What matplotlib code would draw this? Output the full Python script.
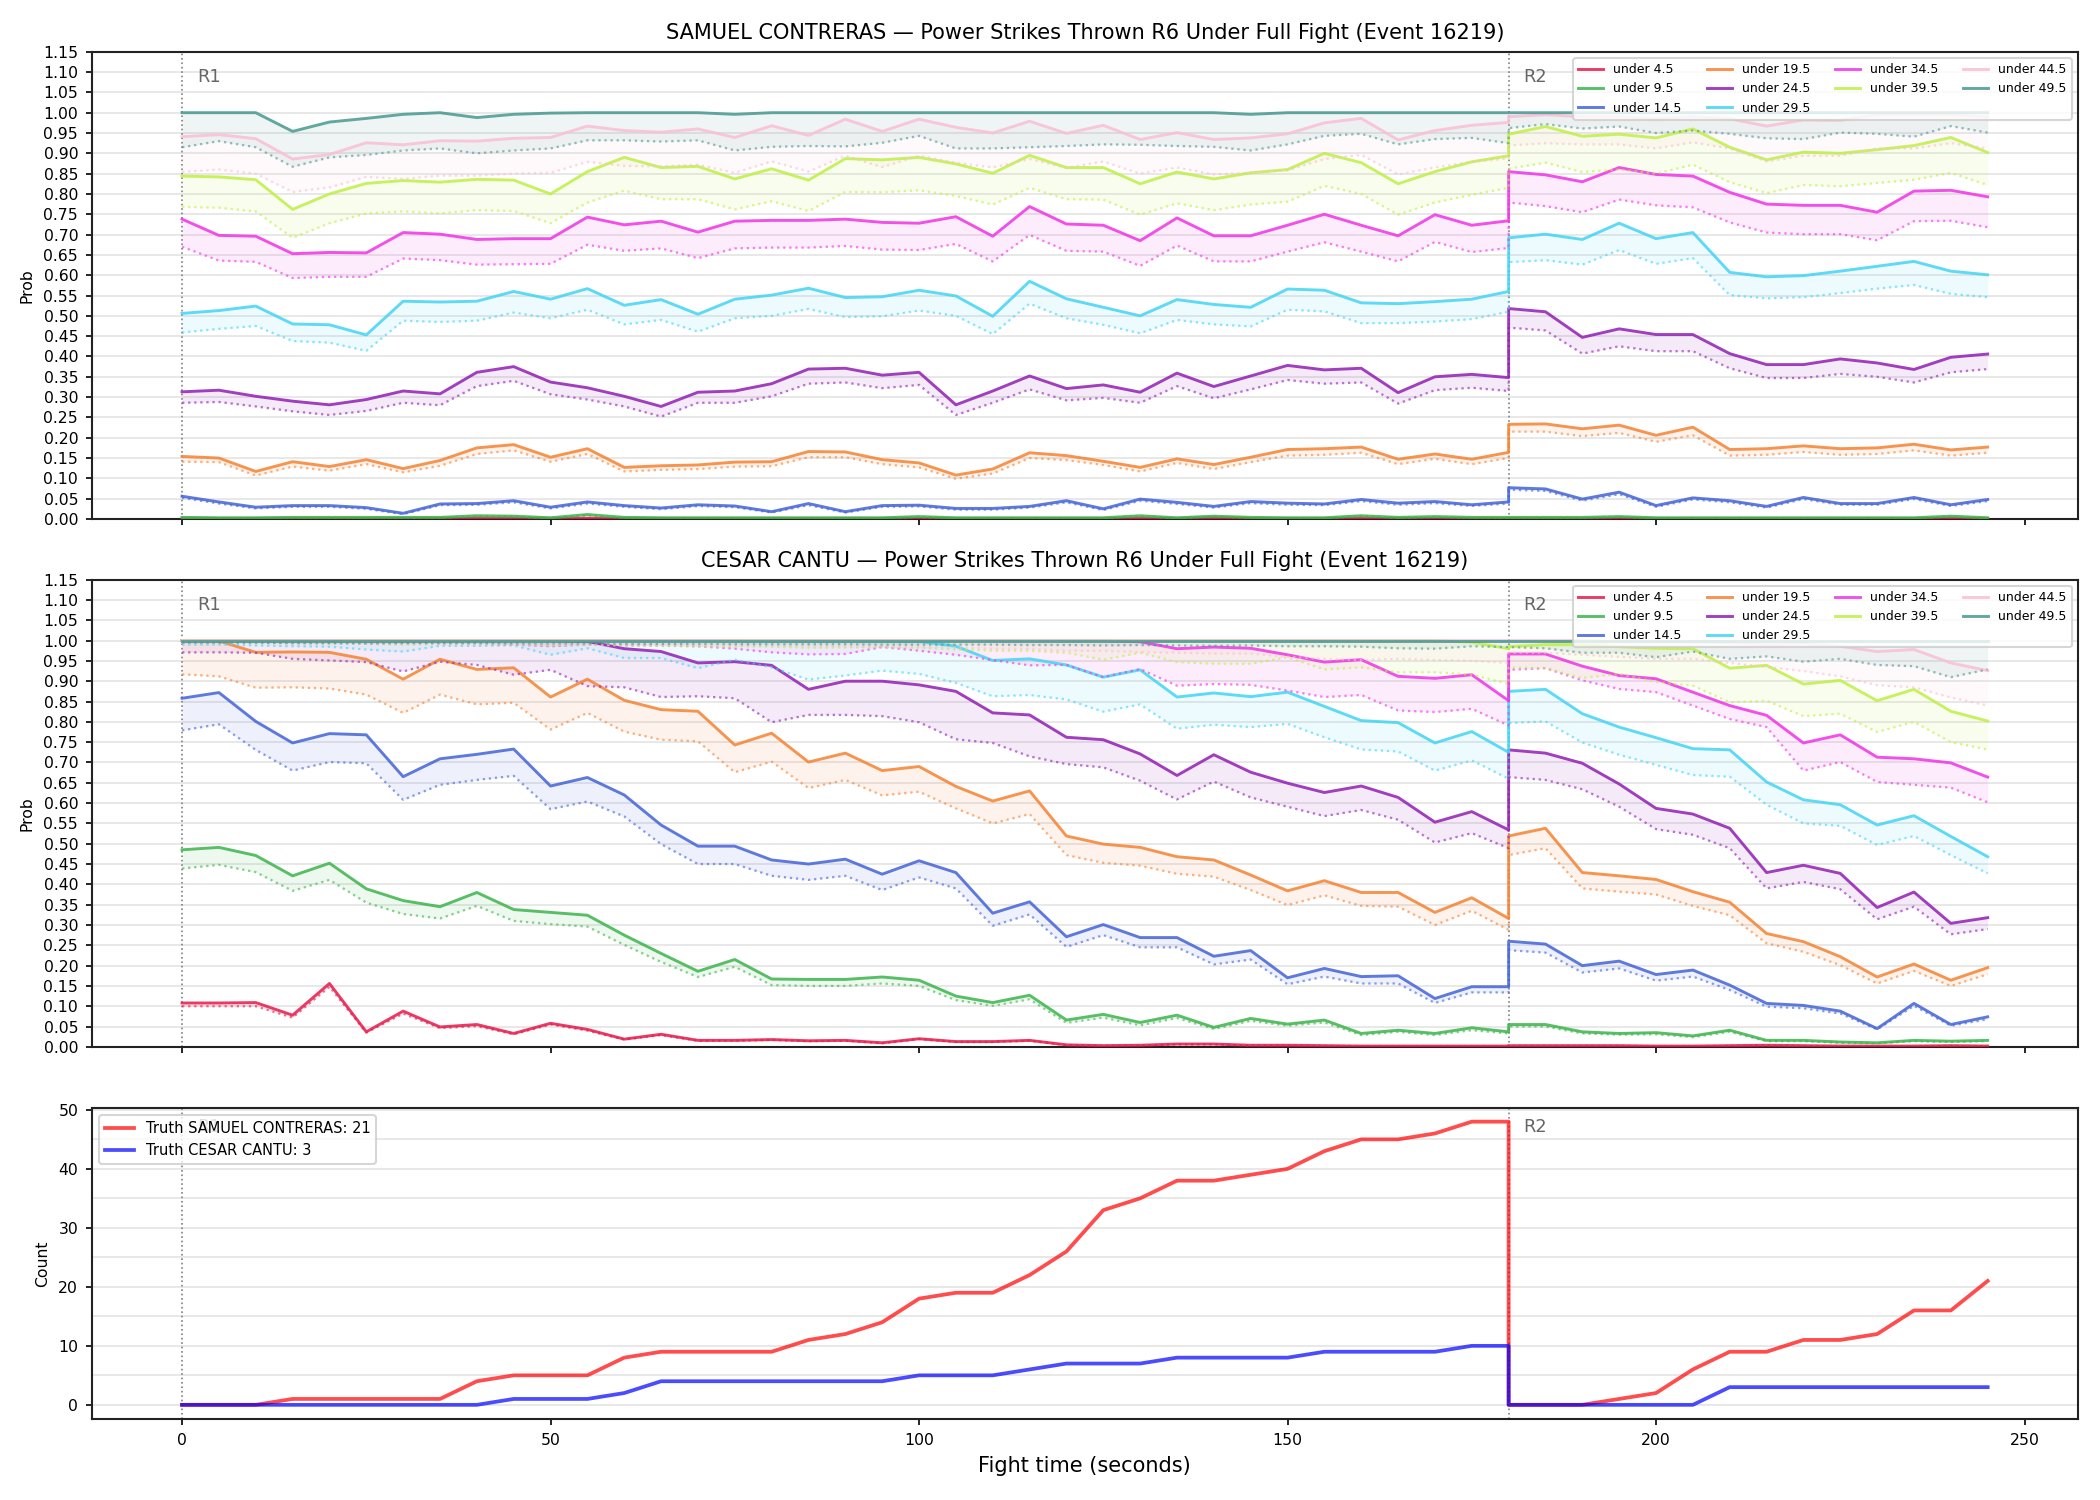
import numpy as np
import matplotlib
matplotlib.use("Agg")
import matplotlib.pyplot as plt
from matplotlib.ticker import MultipleLocator
from matplotlib.transforms import blended_transform_factory

plt.rcParams["font.family"] = ["DejaVu Sans"]
plt.rcParams["axes.edgecolor"] = "#222222"
plt.rcParams["axes.linewidth"] = 1.0

# ---------------- data ----------------
t_r1 = list(range(0, 181, 5))      # round 1 sample times
t_r2 = list(range(180, 246, 5))    # round 2 sample times
times = t_r1 + t_r2
round_starts = [0, 180]
round_names = ["R1", "R2"]

lines = ["under 4.5", "under 9.5", "under 14.5", "under 19.5", "under 24.5",
         "under 29.5", "under 34.5", "under 39.5", "under 44.5", "under 49.5"]
colors = ["#e6194B", "#3cb44b", "#4363d8", "#f58231", "#911eb4",
          "#42d4f4", "#f032e6", "#bfef45", "#fabed4", "#469990"]

# ---- SAMUEL CONTRERAS: solid (model) and dotted (reference) probabilities ----
sc_u4_5 = [0.001, 0.001, 0.001, 0.001, 0.001, 0.001, 0.001, 0.001, 0.002, 0.002, 0.001, 0.002, 0.001, 0.001, 0.001, 0.001, 0.001, 0.001, 0.001, 0.001, 0.001, 0.001, 0.001, 0.001, 0.001, 0.001, 0.002, 0.001, 0.003, 0.001, 0.001, 0.001, 0.002, 0.001, 0.001, 0.001, 0.001,
           0.001, 0.001, 0.001, 0.002, 0.001, 0.001, 0.001, 0.001, 0.001, 0.001, 0.001, 0.001, 0.002, 0.001]
sc_u4_5_ref = [0.000, 0.000, 0.000, 0.000, 0.000, 0.000, 0.000, 0.000, 0.001, 0.001, 0.000, 0.001, 0.000, 0.000, 0.000, 0.000, 0.000, 0.000, 0.000, 0.000, 0.000, 0.000, 0.000, 0.000, 0.000, 0.000, 0.001, 0.000, 0.002, 0.000, 0.000, 0.000, 0.001, 0.000, 0.000, 0.000, 0.000,
               0.000, 0.000, 0.000, 0.001, 0.000, 0.000, 0.000, 0.000, 0.000, 0.000, 0.000, 0.000, 0.001, 0.000]
sc_u9_5 = [0.004, 0.003, 0.003, 0.004, 0.004, 0.004, 0.004, 0.004, 0.008, 0.007, 0.003, 0.011, 0.004, 0.003, 0.003, 0.003, 0.003, 0.003, 0.003, 0.003, 0.006, 0.003, 0.003, 0.003, 0.003, 0.003, 0.008, 0.003, 0.007, 0.004, 0.003, 0.003, 0.008, 0.004, 0.006, 0.004, 0.004,
           0.004, 0.004, 0.004, 0.006, 0.003, 0.003, 0.003, 0.003, 0.003, 0.003, 0.003, 0.003, 0.007, 0.003]
sc_u9_5_ref = [0.003, 0.002, 0.002, 0.003, 0.003, 0.003, 0.003, 0.003, 0.007, 0.006, 0.002, 0.009, 0.003, 0.002, 0.002, 0.002, 0.002, 0.002, 0.002, 0.002, 0.005, 0.002, 0.002, 0.002, 0.002, 0.002, 0.007, 0.002, 0.006, 0.003, 0.002, 0.002, 0.007, 0.003, 0.005, 0.003, 0.003,
               0.003, 0.003, 0.003, 0.005, 0.002, 0.002, 0.002, 0.002, 0.002, 0.002, 0.002, 0.002, 0.006, 0.002]
sc_u14_5 = [0.056, 0.042, 0.029, 0.033, 0.033, 0.028, 0.014, 0.037, 0.038, 0.045, 0.029, 0.042, 0.033, 0.027, 0.035, 0.032, 0.018, 0.038, 0.018, 0.033, 0.034, 0.026, 0.026, 0.031, 0.045, 0.025, 0.049, 0.041, 0.031, 0.043, 0.039, 0.037, 0.048, 0.039, 0.043, 0.035, 0.042,
            0.077, 0.074, 0.049, 0.066, 0.033, 0.052, 0.045, 0.031, 0.053, 0.038, 0.038, 0.053, 0.035, 0.048]
sc_u14_5_ref = [0.052, 0.038, 0.026, 0.030, 0.030, 0.025, 0.012, 0.034, 0.035, 0.041, 0.026, 0.038, 0.030, 0.024, 0.032, 0.029, 0.016, 0.034, 0.016, 0.030, 0.031, 0.023, 0.023, 0.028, 0.041, 0.022, 0.045, 0.037, 0.028, 0.039, 0.035, 0.034, 0.044, 0.035, 0.039, 0.032, 0.038,
                0.072, 0.069, 0.045, 0.061, 0.030, 0.048, 0.041, 0.028, 0.049, 0.035, 0.035, 0.049, 0.032, 0.044]
sc_u19_5 = [0.154, 0.150, 0.117, 0.141, 0.129, 0.146, 0.124, 0.144, 0.175, 0.183, 0.152, 0.173, 0.127, 0.131, 0.133, 0.140, 0.141, 0.166, 0.165, 0.146, 0.138, 0.108, 0.123, 0.163, 0.156, 0.142, 0.127, 0.148, 0.134, 0.152, 0.171, 0.173, 0.177, 0.147, 0.160, 0.147, 0.164,
            0.233, 0.234, 0.222, 0.231, 0.206, 0.226, 0.171, 0.173, 0.180, 0.173, 0.175, 0.184, 0.170, 0.177]
sc_u19_5_ref = [0.141, 0.140, 0.107, 0.129, 0.119, 0.135, 0.115, 0.131, 0.160, 0.169, 0.141, 0.160, 0.117, 0.121, 0.123, 0.129, 0.130, 0.152, 0.152, 0.135, 0.127, 0.099, 0.112, 0.150, 0.145, 0.133, 0.117, 0.138, 0.123, 0.140, 0.156, 0.158, 0.163, 0.135, 0.148, 0.135, 0.150,
                0.215, 0.215, 0.204, 0.212, 0.190, 0.206, 0.156, 0.158, 0.165, 0.158, 0.160, 0.169, 0.156, 0.163]
sc_u24_5 = [0.313, 0.317, 0.302, 0.290, 0.281, 0.294, 0.315, 0.308, 0.361, 0.375, 0.337, 0.323, 0.302, 0.277, 0.312, 0.315, 0.333, 0.369, 0.371, 0.354, 0.361, 0.281, 0.315, 0.352, 0.321, 0.330, 0.312, 0.359, 0.326, 0.352, 0.378, 0.367, 0.371, 0.311, 0.350, 0.356, 0.348,
            0.518, 0.510, 0.447, 0.468, 0.454, 0.454, 0.407, 0.380, 0.380, 0.394, 0.384, 0.368, 0.398, 0.406]
sc_u24_5_ref = [0.286, 0.288, 0.277, 0.265, 0.256, 0.266, 0.286, 0.280, 0.327, 0.340, 0.307, 0.294, 0.277, 0.252, 0.286, 0.286, 0.302, 0.333, 0.336, 0.322, 0.330, 0.256, 0.286, 0.319, 0.292, 0.298, 0.286, 0.327, 0.297, 0.319, 0.342, 0.333, 0.336, 0.284, 0.317, 0.323, 0.315,
                0.471, 0.464, 0.407, 0.425, 0.413, 0.413, 0.371, 0.347, 0.347, 0.357, 0.350, 0.336, 0.361, 0.369]
sc_u29_5 = [0.506, 0.513, 0.524, 0.480, 0.478, 0.453, 0.536, 0.534, 0.536, 0.560, 0.541, 0.567, 0.526, 0.540, 0.504, 0.541, 0.551, 0.568, 0.545, 0.547, 0.563, 0.549, 0.499, 0.585, 0.542, 0.521, 0.500, 0.540, 0.528, 0.521, 0.566, 0.563, 0.532, 0.530, 0.535, 0.541, 0.560,
            0.692, 0.701, 0.688, 0.728, 0.690, 0.705, 0.607, 0.596, 0.599, 0.610, 0.622, 0.634, 0.610, 0.601]
sc_u29_5_ref = [0.459, 0.468, 0.475, 0.438, 0.434, 0.414, 0.488, 0.485, 0.488, 0.508, 0.494, 0.515, 0.479, 0.490, 0.461, 0.494, 0.500, 0.517, 0.497, 0.499, 0.513, 0.500, 0.455, 0.530, 0.494, 0.478, 0.457, 0.490, 0.479, 0.474, 0.515, 0.511, 0.482, 0.482, 0.486, 0.492, 0.510,
                0.632, 0.637, 0.626, 0.662, 0.628, 0.642, 0.551, 0.543, 0.546, 0.556, 0.567, 0.576, 0.554, 0.546]
sc_u34_5 = [0.738, 0.698, 0.696, 0.653, 0.656, 0.655, 0.705, 0.701, 0.688, 0.690, 0.690, 0.743, 0.724, 0.733, 0.706, 0.733, 0.735, 0.735, 0.738, 0.730, 0.728, 0.744, 0.696, 0.769, 0.726, 0.723, 0.685, 0.741, 0.697, 0.697, 0.723, 0.750, 0.723, 0.697, 0.749, 0.723, 0.734,
            0.855, 0.847, 0.830, 0.865, 0.848, 0.844, 0.804, 0.775, 0.772, 0.772, 0.755, 0.807, 0.809, 0.793]
sc_u34_5_ref = [0.670, 0.636, 0.633, 0.593, 0.596, 0.596, 0.641, 0.637, 0.626, 0.627, 0.628, 0.675, 0.660, 0.666, 0.642, 0.666, 0.668, 0.668, 0.672, 0.663, 0.662, 0.677, 0.634, 0.699, 0.660, 0.658, 0.623, 0.673, 0.634, 0.634, 0.658, 0.681, 0.658, 0.634, 0.682, 0.657, 0.667,
                0.779, 0.770, 0.755, 0.786, 0.772, 0.767, 0.730, 0.705, 0.701, 0.701, 0.686, 0.733, 0.734, 0.718]
sc_u39_5 = [0.844, 0.842, 0.835, 0.762, 0.800, 0.826, 0.833, 0.829, 0.836, 0.834, 0.800, 0.855, 0.890, 0.865, 0.868, 0.837, 0.862, 0.834, 0.887, 0.884, 0.890, 0.874, 0.851, 0.895, 0.865, 0.865, 0.825, 0.854, 0.837, 0.852, 0.860, 0.900, 0.877, 0.825, 0.855, 0.879, 0.894,
            0.947, 0.966, 0.942, 0.947, 0.938, 0.960, 0.915, 0.884, 0.903, 0.900, 0.909, 0.919, 0.939, 0.902]
sc_u39_5_ref = [0.768, 0.766, 0.757, 0.692, 0.728, 0.752, 0.757, 0.752, 0.760, 0.758, 0.728, 0.779, 0.808, 0.787, 0.787, 0.762, 0.782, 0.758, 0.805, 0.804, 0.809, 0.795, 0.774, 0.815, 0.787, 0.786, 0.749, 0.777, 0.760, 0.774, 0.781, 0.820, 0.800, 0.749, 0.779, 0.798, 0.815,
                0.862, 0.877, 0.854, 0.860, 0.850, 0.872, 0.829, 0.802, 0.822, 0.819, 0.827, 0.835, 0.852, 0.822]
sc_u44_5 = [0.941, 0.946, 0.936, 0.886, 0.897, 0.926, 0.921, 0.931, 0.930, 0.937, 0.939, 0.967, 0.956, 0.952, 0.960, 0.939, 0.968, 0.944, 0.984, 0.954, 0.984, 0.964, 0.950, 0.979, 0.949, 0.969, 0.934, 0.951, 0.934, 0.938, 0.948, 0.975, 0.986, 0.933, 0.956, 0.969, 0.976,
            0.990, 0.995, 0.990, 0.990, 0.985, 0.990, 0.985, 0.967, 0.982, 0.981, 0.995, 0.995, 0.995, 0.990]
sc_u44_5_ref = [0.854, 0.860, 0.850, 0.805, 0.816, 0.842, 0.837, 0.845, 0.845, 0.850, 0.852, 0.879, 0.869, 0.868, 0.872, 0.852, 0.880, 0.855, 0.894, 0.866, 0.894, 0.877, 0.865, 0.886, 0.864, 0.880, 0.850, 0.865, 0.848, 0.852, 0.858, 0.886, 0.896, 0.848, 0.865, 0.879, 0.887,
                0.919, 0.925, 0.922, 0.922, 0.912, 0.927, 0.912, 0.880, 0.894, 0.894, 0.912, 0.912, 0.925, 0.912]
sc_u49_5 = [1.000, 1.000, 1.000, 0.954, 0.977, 0.986, 0.996, 1.000, 0.988, 0.996, 0.999, 1.000, 1.000, 1.000, 1.000, 0.996, 1.000, 1.000, 1.000, 1.000, 1.000, 1.000, 1.000, 1.000, 1.000, 1.000, 1.000, 1.000, 1.000, 0.996, 1.000, 1.000, 1.000, 1.000, 1.000, 1.000, 1.000,
            1.000, 1.000, 1.000, 1.000, 1.000, 1.000, 1.000, 1.000, 1.000, 1.000, 1.000, 1.000, 1.000, 1.000]
sc_u49_5_ref = [0.915, 0.930, 0.915, 0.867, 0.890, 0.896, 0.907, 0.912, 0.900, 0.907, 0.912, 0.932, 0.932, 0.929, 0.932, 0.907, 0.916, 0.918, 0.917, 0.926, 0.943, 0.912, 0.912, 0.915, 0.918, 0.922, 0.921, 0.918, 0.916, 0.907, 0.922, 0.943, 0.948, 0.922, 0.935, 0.938, 0.925,
                0.962, 0.972, 0.961, 0.966, 0.950, 0.956, 0.948, 0.937, 0.935, 0.951, 0.948, 0.941, 0.967, 0.951]

# ---- CESAR CANTU ----
cc_u4_5 = [0.108, 0.108, 0.109, 0.078, 0.156, 0.037, 0.088, 0.049, 0.055, 0.033, 0.058, 0.043, 0.019, 0.031, 0.016, 0.016, 0.018, 0.015, 0.016, 0.010, 0.020, 0.013, 0.013, 0.016, 0.005, 0.003, 0.004, 0.007, 0.007, 0.004, 0.004, 0.003, 0.002, 0.002, 0.002, 0.002, 0.002,
           0.003, 0.003, 0.003, 0.003, 0.002, 0.002, 0.003, 0.004, 0.003, 0.002, 0.002, 0.002, 0.003, 0.002]
cc_u4_5_ref = [0.100, 0.100, 0.100, 0.072, 0.148, 0.035, 0.082, 0.046, 0.051, 0.031, 0.055, 0.040, 0.018, 0.029, 0.015, 0.015, 0.017, 0.014, 0.015, 0.009, 0.019, 0.012, 0.012, 0.015, 0.004, 0.002, 0.003, 0.006, 0.006, 0.003, 0.003, 0.002, 0.001, 0.001, 0.001, 0.001, 0.001,
               0.002, 0.002, 0.002, 0.002, 0.001, 0.001, 0.002, 0.003, 0.002, 0.001, 0.001, 0.001, 0.002, 0.001]
cc_u9_5 = [0.485, 0.491, 0.471, 0.421, 0.452, 0.389, 0.360, 0.345, 0.380, 0.338, 0.331, 0.324, 0.275, 0.230, 0.186, 0.215, 0.167, 0.166, 0.166, 0.172, 0.164, 0.125, 0.109, 0.127, 0.066, 0.080, 0.060, 0.078, 0.048, 0.070, 0.056, 0.066, 0.033, 0.041, 0.033, 0.047, 0.037,
           0.055, 0.055, 0.037, 0.033, 0.035, 0.027, 0.041, 0.016, 0.016, 0.012, 0.010, 0.016, 0.014, 0.016]
cc_u9_5_ref = [0.439, 0.448, 0.430, 0.384, 0.411, 0.355, 0.327, 0.316, 0.347, 0.310, 0.302, 0.296, 0.251, 0.209, 0.172, 0.197, 0.152, 0.150, 0.150, 0.156, 0.150, 0.115, 0.101, 0.117, 0.059, 0.072, 0.053, 0.071, 0.044, 0.064, 0.052, 0.060, 0.029, 0.037, 0.029, 0.041, 0.033,
               0.050, 0.050, 0.033, 0.030, 0.031, 0.024, 0.037, 0.014, 0.014, 0.010, 0.009, 0.014, 0.012, 0.014]
cc_u14_5 = [0.858, 0.872, 0.801, 0.748, 0.771, 0.768, 0.665, 0.709, 0.720, 0.733, 0.642, 0.663, 0.620, 0.546, 0.494, 0.494, 0.460, 0.450, 0.462, 0.425, 0.458, 0.429, 0.329, 0.357, 0.271, 0.301, 0.269, 0.269, 0.223, 0.237, 0.170, 0.193, 0.173, 0.175, 0.119, 0.148, 0.148,
            0.260, 0.253, 0.200, 0.211, 0.178, 0.189, 0.152, 0.107, 0.102, 0.088, 0.045, 0.107, 0.055, 0.074]
cc_u14_5_ref = [0.779, 0.794, 0.731, 0.680, 0.701, 0.698, 0.608, 0.645, 0.657, 0.667, 0.585, 0.604, 0.567, 0.499, 0.450, 0.450, 0.421, 0.411, 0.421, 0.386, 0.417, 0.390, 0.298, 0.326, 0.246, 0.275, 0.245, 0.245, 0.203, 0.215, 0.154, 0.173, 0.156, 0.156, 0.108, 0.134, 0.134,
                0.238, 0.232, 0.183, 0.193, 0.163, 0.173, 0.140, 0.099, 0.095, 0.082, 0.043, 0.101, 0.052, 0.068]
cc_u19_5 = [1.000, 0.999, 0.971, 0.972, 0.971, 0.954, 0.905, 0.954, 0.929, 0.933, 0.861, 0.905, 0.853, 0.830, 0.826, 0.743, 0.772, 0.701, 0.723, 0.680, 0.690, 0.641, 0.605, 0.630, 0.519, 0.499, 0.491, 0.468, 0.460, 0.423, 0.384, 0.409, 0.380, 0.380, 0.331, 0.367, 0.316,
            0.519, 0.538, 0.429, 0.421, 0.412, 0.382, 0.356, 0.279, 0.259, 0.222, 0.172, 0.204, 0.164, 0.195]
cc_u19_5_ref = [0.917, 0.912, 0.884, 0.885, 0.882, 0.867, 0.822, 0.867, 0.843, 0.847, 0.781, 0.822, 0.776, 0.756, 0.752, 0.676, 0.702, 0.637, 0.657, 0.619, 0.628, 0.587, 0.550, 0.573, 0.472, 0.453, 0.446, 0.426, 0.419, 0.386, 0.349, 0.373, 0.347, 0.345, 0.300, 0.335, 0.288,
                0.472, 0.489, 0.390, 0.382, 0.375, 0.347, 0.324, 0.255, 0.234, 0.201, 0.156, 0.187, 0.150, 0.179]
cc_u24_5 = [1.000, 1.000, 1.000, 1.000, 1.000, 1.000, 1.000, 1.000, 1.000, 1.000, 1.000, 0.998, 0.980, 0.973, 0.945, 0.948, 0.939, 0.880, 0.900, 0.900, 0.891, 0.875, 0.822, 0.817, 0.762, 0.756, 0.721, 0.668, 0.719, 0.676, 0.649, 0.626, 0.642, 0.614, 0.553, 0.579, 0.534,
            0.731, 0.723, 0.698, 0.647, 0.587, 0.573, 0.538, 0.429, 0.447, 0.427, 0.343, 0.381, 0.304, 0.318]
cc_u24_5_ref = [0.971, 0.971, 0.970, 0.955, 0.951, 0.947, 0.924, 0.948, 0.940, 0.916, 0.928, 0.888, 0.885, 0.861, 0.863, 0.858, 0.799, 0.817, 0.817, 0.814, 0.799, 0.757, 0.748, 0.715, 0.696, 0.688, 0.655, 0.609, 0.653, 0.614, 0.591, 0.568, 0.583, 0.559, 0.503, 0.526, 0.489,
                0.664, 0.657, 0.634, 0.591, 0.536, 0.522, 0.489, 0.390, 0.406, 0.388, 0.314, 0.345, 0.277, 0.290]
cc_u29_5 = [1.000, 1.000, 1.000, 1.000, 1.000, 1.000, 1.000, 1.000, 1.000, 1.000, 1.000, 1.000, 1.000, 1.000, 1.000, 1.000, 0.999, 0.999, 0.999, 0.999, 0.998, 0.986, 0.951, 0.955, 0.940, 0.910, 0.928, 0.861, 0.871, 0.862, 0.873, 0.838, 0.803, 0.798, 0.748, 0.776, 0.725,
            0.875, 0.880, 0.820, 0.787, 0.761, 0.734, 0.731, 0.652, 0.608, 0.596, 0.546, 0.569, 0.518, 0.468]
cc_u29_5_ref = [0.990, 0.990, 0.988, 0.986, 0.985, 0.978, 0.973, 0.987, 0.987, 0.988, 0.965, 0.981, 0.957, 0.957, 0.932, 0.953, 0.934, 0.904, 0.914, 0.926, 0.918, 0.896, 0.863, 0.866, 0.855, 0.825, 0.843, 0.783, 0.793, 0.787, 0.795, 0.762, 0.732, 0.727, 0.680, 0.705, 0.660,
                0.797, 0.801, 0.749, 0.719, 0.694, 0.669, 0.665, 0.596, 0.550, 0.544, 0.497, 0.519, 0.472, 0.427]
cc_u34_5 = [1.000, 1.000, 1.000, 1.000, 1.000, 1.000, 1.000, 1.000, 1.000, 1.000, 1.000, 1.000, 1.000, 1.000, 1.000, 1.000, 1.000, 1.000, 1.000, 1.000, 1.000, 1.000, 1.000, 1.000, 1.000, 1.000, 0.997, 0.980, 0.984, 0.981, 0.965, 0.947, 0.953, 0.912, 0.907, 0.916, 0.852,
            0.967, 0.967, 0.937, 0.914, 0.906, 0.873, 0.840, 0.816, 0.748, 0.768, 0.713, 0.709, 0.699, 0.664]
cc_u34_5_ref = [0.995, 0.995, 0.995, 0.994, 0.994, 0.994, 0.993, 0.993, 0.993, 0.990, 0.986, 0.990, 0.988, 0.988, 0.986, 0.980, 0.971, 0.966, 0.967, 0.984, 0.975, 0.965, 0.952, 0.939, 0.940, 0.910, 0.930, 0.889, 0.893, 0.891, 0.877, 0.861, 0.866, 0.828, 0.824, 0.832, 0.791,
                0.928, 0.932, 0.902, 0.881, 0.873, 0.840, 0.807, 0.787, 0.680, 0.701, 0.652, 0.645, 0.638, 0.602]
cc_u39_5 = [1.000, 1.000, 1.000, 1.000, 1.000, 1.000, 1.000, 1.000, 1.000, 1.000, 1.000, 1.000, 1.000, 1.000, 1.000, 1.000, 1.000, 1.000, 1.000, 1.000, 1.000, 1.000, 1.000, 1.000, 1.000, 1.000, 1.000, 1.000, 1.000, 1.000, 1.000, 1.000, 1.000, 1.000, 1.000, 0.996, 0.980,
            0.985, 0.990, 0.990, 0.985, 0.981, 0.980, 0.932, 0.939, 0.893, 0.902, 0.852, 0.880, 0.826, 0.802]
cc_u39_5_ref = [0.995, 0.995, 0.994, 0.994, 0.993, 0.992, 0.990, 0.992, 0.992, 0.991, 0.988, 0.990, 0.988, 0.987, 0.985, 0.986, 0.985, 0.982, 0.983, 0.984, 0.982, 0.978, 0.975, 0.975, 0.970, 0.953, 0.970, 0.947, 0.943, 0.943, 0.959, 0.929, 0.934, 0.922, 0.922, 0.916, 0.893,
                0.934, 0.932, 0.908, 0.918, 0.898, 0.889, 0.848, 0.852, 0.814, 0.820, 0.775, 0.800, 0.750, 0.732]
cc_u44_5 = [1.000, 1.000, 1.000, 1.000, 1.000, 1.000, 1.000, 1.000, 1.000, 1.000, 1.000, 1.000, 1.000, 1.000, 1.000, 1.000, 1.000, 1.000, 1.000, 1.000, 1.000, 1.000, 1.000, 1.000, 1.000, 1.000, 1.000, 1.000, 1.000, 1.000, 1.000, 1.000, 1.000, 1.000, 1.000, 1.000, 1.000,
            1.000, 1.000, 1.000, 0.998, 0.998, 0.997, 0.995, 0.990, 0.992, 0.986, 0.973, 0.978, 0.945, 0.926]
cc_u44_5_ref = [0.993, 0.993, 0.993, 0.992, 0.992, 0.992, 0.991, 0.991, 0.991, 0.990, 0.990, 0.990, 0.989, 0.989, 0.988, 0.988, 0.987, 0.986, 0.985, 0.985, 0.984, 0.983, 0.980, 0.980, 0.975, 0.975, 0.972, 0.970, 0.968, 0.968, 0.960, 0.955, 0.952, 0.955, 0.952, 0.950, 0.945,
                0.970, 0.970, 0.965, 0.960, 0.955, 0.955, 0.945, 0.935, 0.925, 0.912, 0.890, 0.885, 0.860, 0.840]
cc_u49_5 = [1.000] * 37 + [1.000] * 14
cc_u49_5_ref = [0.995, 0.995, 0.995, 0.994, 0.994, 0.993, 0.994, 0.994, 0.994, 0.993, 0.993, 0.993, 0.992, 0.992, 0.992, 0.991, 0.991, 0.991, 0.991, 0.990, 0.990, 0.990, 0.990, 0.989, 0.989, 0.988, 0.989, 0.988, 0.987, 0.988, 0.986, 0.986, 0.985, 0.981, 0.980, 0.986, 0.984,
                0.984, 0.981, 0.970, 0.970, 0.959, 0.973, 0.955, 0.961, 0.948, 0.955, 0.940, 0.937, 0.910, 0.929]

# ---- cumulative truth counts ----
truth_sc = [0, 0, 0, 1, 1, 1, 1, 1, 4, 5, 5, 5, 8, 9, 9, 9, 9, 11, 12, 14, 18, 19, 19, 22, 26, 33, 35, 38, 38, 39, 40, 43, 45, 45, 46, 48, 48,
            0, 0, 0, 1, 2, 6, 9, 9, 11, 11, 12, 16, 16, 21]
truth_cc = [0, 0, 0, 0, 0, 0, 0, 0, 0, 1, 1, 1, 2, 4, 4, 4, 4, 4, 4, 4, 5, 5, 5, 6, 7, 7, 7, 8, 8, 8, 8, 9, 9, 9, 9, 10, 10,
            0, 0, 0, 0, 0, 0, 3, 3, 3, 3, 3, 3, 3, 3]

fighters = ["SAMUEL CONTRERAS", "CESAR CANTU"]
sc_model = [sc_u4_5, sc_u9_5, sc_u14_5, sc_u19_5, sc_u24_5, sc_u29_5, sc_u34_5, sc_u39_5, sc_u44_5, sc_u49_5]
sc_ref = [sc_u4_5_ref, sc_u9_5_ref, sc_u14_5_ref, sc_u19_5_ref, sc_u24_5_ref, sc_u29_5_ref, sc_u34_5_ref, sc_u39_5_ref, sc_u44_5_ref, sc_u49_5_ref]
cc_model = [cc_u4_5, cc_u9_5, cc_u14_5, cc_u19_5, cc_u24_5, cc_u29_5, cc_u34_5, cc_u39_5, cc_u44_5, cc_u49_5]
cc_ref = [cc_u4_5_ref, cc_u9_5_ref, cc_u14_5_ref, cc_u19_5_ref, cc_u24_5_ref, cc_u29_5_ref, cc_u34_5_ref, cc_u39_5_ref, cc_u44_5_ref, cc_u49_5_ref]

# ---------------- figure ----------------
fig = plt.figure(figsize=(14, 10), dpi=150)
gs = fig.add_gridspec(3, 1, height_ratios=[3, 3, 2], left=0.0437, right=0.9895,
                      top=0.9655, bottom=0.054, hspace=0.146)
ax1 = fig.add_subplot(gs[0])
ax2 = fig.add_subplot(gs[1], sharex=ax1)
ax3 = fig.add_subplot(gs[2], sharex=ax1)

x = np.array(times)
GRID = "#e4e4e4"


def mark_rounds(ax):
    tr = blended_transform_factory(ax.transData, ax.transAxes)
    for rs, rn in zip(round_starts, round_names):
        ax.axvline(rs, color="gray", ls=":", lw=0.8, zorder=1)
        ax.text(rs + 2, 0.965, rn, transform=tr, ha="left", va="top",
                fontsize=8.5, color="#555555", alpha=0.9, zorder=1)


for ax, name, model, ref in [(ax1, fighters[0], sc_model, sc_ref),
                             (ax2, fighters[1], cc_model, cc_ref)]:
    for lab, col, s, d in zip(lines, colors, model, ref):
        s = np.array(s)
        d = np.array(d)
        ax.fill_between(x, d, s, color=col, alpha=0.09, lw=0, zorder=2)
        ax.plot(x, s, color=col, lw=1.4, alpha=0.85, label=lab, zorder=3)
        ax.plot(x, d, color=col, lw=1.1, ls=":", alpha=0.6, zorder=3)
    mark_rounds(ax)
    ax.set_ylim(0, 1.15)
    ax.set_yticks(np.arange(0, 1.1501, 0.05))
    ax.set_ylabel("Prob", fontsize=7.5)
    ax.set_title(f"{name} \u2014 Power Strikes Thrown R6 Under Full Fight (Event 16219)",
                 fontsize=10)
    ax.grid(axis="y", color=GRID, lw=0.8)
    ax.set_axisbelow(True)
    ax.legend(loc="upper right", ncol=4, fontsize=6, framealpha=0.8)
    ax.tick_params(labelsize=7.5, labelbottom=False, length=3)

ax3.plot(x, truth_sc, color="red", alpha=0.7, lw=1.8,
         label=f"Truth {fighters[0]}: {truth_sc[-1]}")
ax3.plot(x, truth_cc, color="blue", alpha=0.7, lw=1.8,
         label=f"Truth {fighters[1]}: {truth_cc[-1]}")
mark_rounds(ax3)
ax3.yaxis.set_major_locator(MultipleLocator(10))
ax3.yaxis.set_minor_locator(MultipleLocator(5))
ax3.tick_params(axis="y", which="minor", length=0)
ax3.grid(axis="y", which="both", color=GRID, lw=0.8)
ax3.set_axisbelow(True)
ax3.set_ylabel("Count", fontsize=7.5)
ax3.set_xlabel("Fight time (seconds)", fontsize=10)
leg = ax3.legend(loc="upper left", fontsize=7, framealpha=0.8)
leg.set_zorder(5)
ax3.tick_params(labelsize=7.5, length=3)

fig.savefig("out.png", dpi=150)
